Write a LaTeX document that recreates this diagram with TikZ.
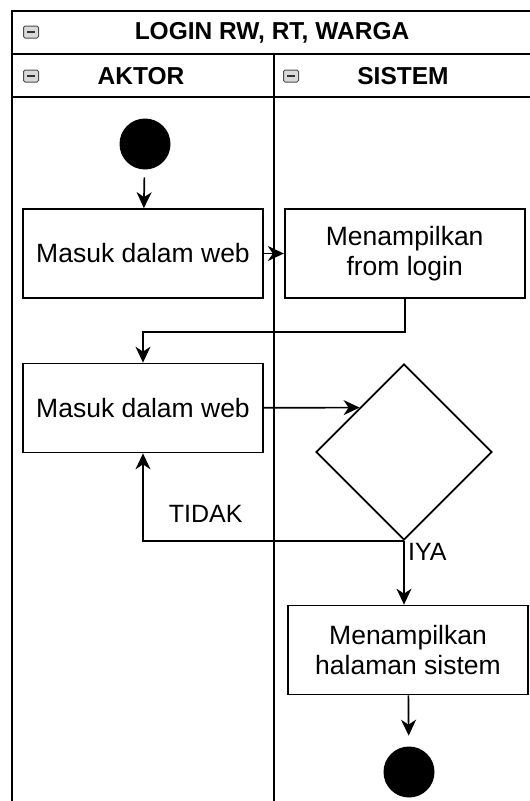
\documentclass[tikz,border=0pt]{standalone}
\usepackage{fontspec}
\setmainfont{Liberation Sans}
\usetikzlibrary{positioning}
\usetikzlibrary{shapes.geometric}
\usetikzlibrary{arrows.meta}

\begin{document}
\begin{tikzpicture}[
  x=1pt, y=-1pt,
  line width=1.7pt,
  actbox/.style={draw,rectangle,minimum width=240pt,minimum height=89pt,align=center,font=\fontsize{26.5}{30}\selectfont},
  dot/.style={circle,fill=black,minimum size=51pt,inner sep=0pt},
  choice/.style={draw,diamond,aspect=1,minimum size=176pt,inner sep=0pt},
  head/.style={font=\bfseries\fontsize{24.5}{28}\selectfont},
  lbl/.style={font=\fontsize{25}{28}\selectfont},
  minbox/.style={draw=gray!60!black,fill=gray!30,rounded corners=1.5pt,line width=1pt,
    minimum width=15pt,minimum height=12pt,inner sep=0pt,
    path picture={\draw[line width=1.5pt,draw=black!80]
      ([xshift=-4pt]path picture bounding box.center) --
      ([xshift=4pt]path picture bounding box.center);}},
  flow/.style={-{Stealth[length=16pt,width=15pt,inset=5pt]}}
]
\useasboundingbox (0,0) rectangle (530,801);
\clip (0,0) rectangle (530,801);

% pool and lanes
\draw (12,11) rectangle (560,830);
\draw (12,54) -- (560,54);
\draw (12,97) -- (560,97);
\draw (274,54) -- (274,830);

\node[head] (pool) at (272,33) {LOGIN RW, RT, WARGA};
\node[head] (aktor) at (141,76) {AKTOR};
\node[head] (sistem) at (403,76) {SISTEM};
\node[minbox] (m1) at (31,32) {};
\node[minbox] (m2) at (31,76) {};
\node[minbox] (m3) at (291,76) {};

% activities
\node[dot] (start) at (145,144) {};
\node[actbox] (masuk1) at (143,253.5) {Masuk dalam web};
\node[actbox,right=20pt of masuk1] (form) {Menampilkan\\from login};
\node[actbox] (masuk2) at (143,408) {Masuk dalam web};
\node[choice] (cek) at (404,452) {};
\node[actbox] (halaman) at (408,650) {Menampilkan\\halaman sistem};
\node[dot] (end) at (409,772) {};

\draw[flow,shorten <=7pt] (start) -- (masuk1);
\draw[flow] (masuk1) -- (form);
\draw[flow] (form.south) -- ++(0,33) -| (masuk2.north);
\draw[flow] (masuk2) -- (cek.north west);
\draw[flow] (cek.south) -| node[lbl,pos=0.38,above=14pt] {TIDAK} (masuk2.south);
\draw[flow] (cek.south) -- node[lbl,pos=0.18,right=0pt] {IYA} (cek.south |- halaman.north);
\draw[flow,shorten >=10pt] (halaman) -- (end);
\end{tikzpicture}
\end{document}
